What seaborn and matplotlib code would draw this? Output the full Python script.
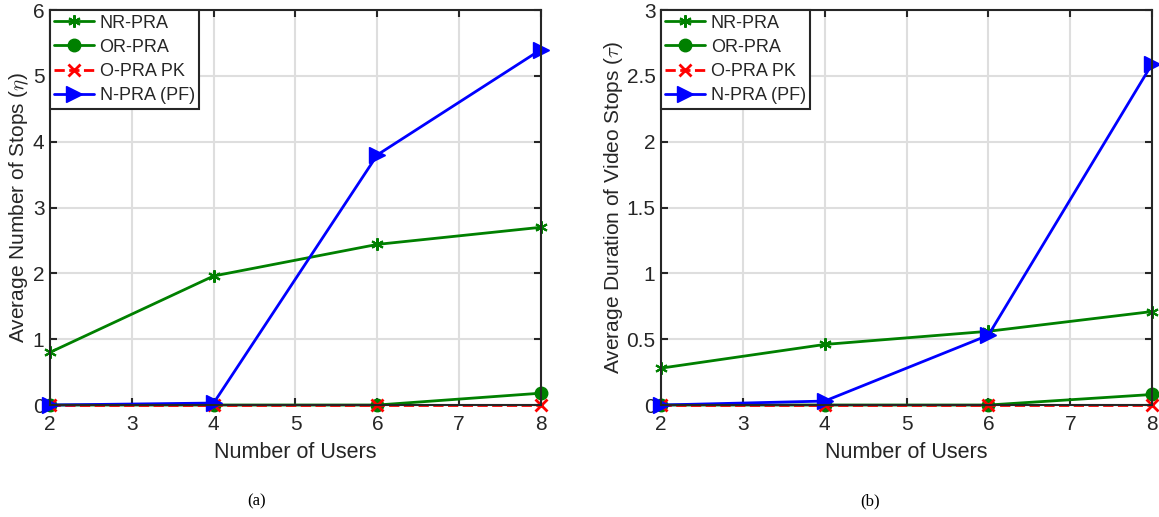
import numpy as np
import pandas as pd
import matplotlib
matplotlib.use("Agg")
import matplotlib.pyplot as plt
import seaborn as sns

users = [2, 4, 6, 8]
series_names = ["NR-PRA", "OR-PRA", "O-PRA PK", "N-PRA (PF)"]

stops_nr = [0.80, 1.96, 2.44, 2.70]
stops_or = [0.0, 0.0, 0.0, 0.18]
stops_opk = [0.0, 0.0, 0.0, 0.0]
stops_pf = [0.0, 0.03, 3.80, 5.40]

dur_nr = [0.28, 0.46, 0.56, 0.71]
dur_or = [0.0, 0.0, 0.0, 0.08]
dur_opk = [0.0, 0.0, 0.0, 0.0]
dur_pf = [0.0, 0.03, 0.53, 2.59]

sns.set_theme(style="whitegrid")
plt.rcParams['font.family'] = ['Liberation Sans', 'DejaVu Sans']
plt.rcParams['mathtext.fontset'] = 'cm'

styles = {
    "NR-PRA": dict(color="#008000", marker=(6, 2, 0), ls="-", ms=9, mew=1.5),
    "OR-PRA": dict(color="#008000", marker="o", ls="-", ms=9, mew=1),
    "O-PRA PK": dict(color="#ff0000", marker="x", ls="--", ms=8, mew=2),
    "N-PRA (PF)": dict(color="#0000ff", marker=">", ls="-", ms=11, mew=1),
}

fig = plt.figure(figsize=(11.59, 5.17), dpi=100)
ax1 = fig.add_axes([0.0431, 0.2166, 0.4237, 0.764])
ax2 = fig.add_axes([0.5703, 0.2166, 0.4237, 0.764])

def draw(ax, data, ylim, yticks, ylabel, caption, cap_x):
    for name, vals in zip(series_names, data):
        st = styles[name]
        df = pd.DataFrame({"x": users, "y": vals})
        sns.lineplot(data=df, x="x", y="y", ax=ax, color=st["color"], marker=st["marker"],
                     linestyle=st["ls"], markersize=st["ms"], markeredgewidth=st["mew"],
                     markeredgecolor=st["color"], linewidth=2, label=name, clip_on=False)
    ax.set_xlim(2, 8)
    ax.set_ylim(*ylim)
    ax.set_xticks(range(2, 9))
    ax.set_yticks(yticks)
    ax.set_yticklabels([("%g" % t) for t in yticks])
    ax.grid(True, color="#dedede", linewidth=1.5)
    for s in ax.spines.values():
        s.set_color("#262626")
        s.set_linewidth(1.5)
        s.set_visible(True)
    ax.tick_params(axis="both", direction="in", length=5, width=1.5, color="#262626",
                   labelsize=15, labelcolor="#262626", top=True, right=True,
                   bottom=True, left=True)
    ax.tick_params(axis="x", pad=7)
    ax.tick_params(axis="y", pad=4)
    ax.set_xlabel("Number of Users", fontsize=15.5, color="#262626", labelpad=6)
    ax.set_ylabel(ylabel, fontsize=15, color="#262626", labelpad=1)
    leg = ax.legend(loc="upper left", fontsize=13, frameon=True, fancybox=False,
                    borderaxespad=0.0, handlelength=2.2, handletextpad=0.3,
                    borderpad=0.25, labelspacing=0.4)
    leg.get_frame().set_edgecolor("#262626")
    leg.get_frame().set_linewidth(1.5)
    leg.get_frame().set_alpha(1)
    fig.text(cap_x / 1159, 1 - 501 / 517, caption, ha="center", va="center",
             fontsize=12, family="Liberation Serif", color="black")

draw(ax1, [stops_nr, stops_or, stops_opk, stops_pf], (0, 6), [0, 1, 2, 3, 4, 5, 6],
     r"Average Number of Stops ($\eta$)", "(a)", 257)
draw(ax2, [dur_nr, dur_or, dur_opk, dur_pf], (0, 3), [0, 0.5, 1, 1.5, 2, 2.5, 3],
     r"Average Duration of Video Stops ($\tau$)", "(b)", 870)

fig.savefig("out.png", dpi=100)
